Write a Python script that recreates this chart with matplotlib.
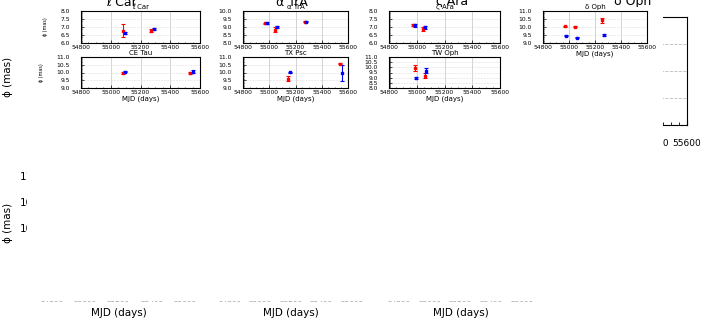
import numpy as np
import matplotlib.pyplot as plt
from matplotlib.patches import Rectangle
from matplotlib.ticker import MultipleLocator, AutoMinorLocator

W, H = 701, 323

# star names and measured diameters (red / blue epochs)
stars = ['ℓ Car', 'α TrA', 'ζ Ara', 'δ Oph', 'CE Tau', 'TX Psc', 'TW Oph']

red_mjd = [[55083, 55272], [54970, 55046, 55270], [54976, 55048],
           [54972, 55047, 55257], [55081, 55535], [55140, 55541], [54986, 55058]]
red_phi = [[6.78, 6.78], [9.22, 8.84, 9.33], [7.12, 6.86],
           [10.05, 10.03, 10.43], [9.97, 9.97], [9.60, 10.58], [9.95, 9.20]]
red_err = [[0.42, 0.08], [0.05, 0.15, 0.03], [0.06, 0.12],
           [0.03, 0.03, 0.15], [0.04, 0.04], [0.18, 0.05], [0.30, 0.25]]

blue_mjd = [[55097, 55288], [54983, 55059, 55283], [54988, 55062],
            [54980, 55060, 55270], [55094, 55550], [55155, 55556], [54993, 55067]]
blue_phi = [[6.63, 6.88], [9.25, 9.02, 9.33], [7.10, 6.97],
            [9.46, 9.34, 9.50], [10.06, 10.05], [10.02, 9.98], [8.97, 9.68]]
blue_err = [[0.05, 0.06], [0.05, 0.06, 0.02], [0.10, 0.12],
            [0.04, 0.03, 0.04], [0.05, 0.10], [0.03, 0.50], [0.12, 0.22]]

ylims = [(6, 8), (8, 10), (6, 8), (9, 11), (9, 11), (9, 11), (8, 11)]
mjd_ticks = [54800, 55000, 55200, 55400, 55600]
bg_yticks = [9.0, 9.5, 10.0, 10.5, 11.0]


def box(x0, y0, x1, y1):
    # pixel box (top-left origin) -> figure fraction
    return [x0 / W, 1 - y1 / H, (x1 - x0) / W, (y1 - y0) / H]


fig = plt.figure(figsize=(W / 100, H / 100), dpi=100)

# ---- background figure (mostly covered) ----
bg_boxes = [(52, 170, 185, 292), (230, 170, 352, 292), (399, 170, 522, 292)]
for i, b in enumerate(bg_boxes):
    ax = fig.add_axes(box(*b))
    ax.set_xlim(54800, 55600)
    ax.set_ylim(8.77, 11.115)
    ax.set_xticks(mjd_ticks)
    ax.set_yticks(bg_yticks if i == 0 else [])
    ax.tick_params(axis='x', labelsize=5.2, colors='#999999', length=0, pad=3.4)
    ax.tick_params(axis='y', labelsize=7.5, length=0, pad=6.5)
    ax.set_xlabel('MJD (days)', fontsize=7.5, labelpad=3.5)

ax = fig.add_axes(box(559, 17, 687, 125))
ax.set_xlim(54800, 55600)
ax.set_ylim(9, 11)
ax.set_xticks(mjd_ticks)
ax.xaxis.set_minor_locator(MultipleLocator(50))
ax.set_yticks(bg_yticks)
ax.set_yticklabels([])
ax.tick_params(axis='both', which='both', direction='in', labelsize=6.5, pad=10)
ax.grid(axis='y', linestyle='--', color='#bbbbbb', linewidth=0.6)

fig.text(8 / W, 1 - 77 / H, 'ϕ (mas)', rotation=90, fontsize=7.5, ha='center', va='center')
fig.text(8 / W, 1 - 223 / H, 'ϕ (mas)', rotation=90, fontsize=7.5, ha='center', va='center')

big_x = [122, 292, 452, 633]
for name, x in zip(stars[:4], big_x):
    fig.text(x / W, 1 - 2 / H, name, fontsize=9, ha='center', va='center', zorder=0.5)

# white sheet with the small chart pasted on top
sheet = Rectangle((27 / W, 1 - 301 / H), (663 - 27) / W, (301 - 7) / H,
                  transform=fig.transFigure, facecolor='white', edgecolor='none', zorder=1)
fig.add_artist(sheet)

# ---- small chart ----
small_boxes = [(81, 11, 200, 43), (243, 11, 348, 43), (389, 11, 500, 43), (543, 11, 647, 43),
               (81, 57, 200, 88), (243, 57, 348, 88), (389, 57, 500, 88)]
for i, b in enumerate(small_boxes):
    ax = fig.add_axes(box(*b))
    ax.set_zorder(2)
    ax.errorbar(red_mjd[i], red_phi[i], yerr=red_err[i], fmt='s', color='red', ms=2,
                capsize=1.5, elinewidth=0.8, capthick=0.8)
    ax.errorbar(blue_mjd[i], blue_phi[i], yerr=blue_err[i], fmt='s', color='blue', ms=2,
                capsize=1.5, elinewidth=0.8, capthick=0.8)
    ax.set_xlim(54800, 55600)
    ax.set_ylim(*ylims[i])
    ax.set_xticks(mjd_ticks)
    ax.yaxis.set_major_locator(MultipleLocator(0.5))
    ax.yaxis.set_major_formatter('{x:.1f}')
    ax.xaxis.set_minor_locator(MultipleLocator(50))
    ax.yaxis.set_minor_locator(AutoMinorLocator(10))
    ax.tick_params(axis='both', which='both', direction='in', labelsize=4.3)
    ax.tick_params(axis='y', pad=8)
    ax.tick_params(axis='x', pad=1.5)
    ax.tick_params(which='major', length=2, width=0.5)
    ax.tick_params(which='minor', length=1, width=0.4)
    ax.grid(axis='x', color='#cccccc', linewidth=0.6)
    ax.grid(axis='y', color='#dddddd', linewidth=0.4, linestyle='--')
    for s in ax.spines.values():
        s.set_linewidth(0.8)
    ax.set_title(stars[i], fontsize=5, pad=1.5)
    if i in (0, 4):
        ax.set_ylabel('ϕ (mas)', fontsize=3.5, labelpad=9)
    if i >= 3:
        ax.set_xlabel('MJD (days)', fontsize=5, labelpad=0.5)

fig.savefig('out.png', dpi=100)
